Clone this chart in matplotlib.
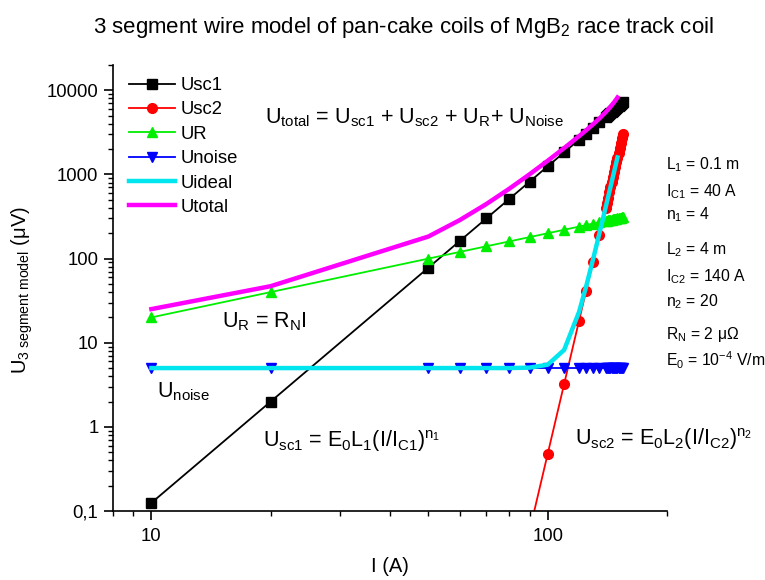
import matplotlib
matplotlib.use("Agg")
import matplotlib.pyplot as plt
import numpy as np
from matplotlib.ticker import FixedLocator, LogLocator, NullFormatter

plt.rcParams["font.family"] = ["Liberation Sans", "DejaVu Sans"]
plt.rcParams["mathtext.fontset"] = "custom"
plt.rcParams["mathtext.rm"] = "Liberation Sans"
plt.rcParams["mathtext.it"] = "Liberation Sans"
plt.rcParams["mathtext.bf"] = "Liberation Sans:bold"

# current steps (A)
current = [10, 20, 50, 60, 70, 80, 90, 100, 110, 120, 125, 130, 135, 140,
           141, 142, 143, 144, 145, 146, 147, 148, 149, 150,
           151, 152, 153, 154, 155]

# voltages (uV)
u_sc1 = [0.125, 2.0, 78, 162, 300, 512, 820, 1250, 1830, 2592, 3052, 3570, 4152, 4802,
         4941, 5082, 5227, 5375, 5526, 5680, 5837, 5997, 6161, 6328,
         6499, 6672, 6850, 7031, 7215]
u_sc2 = [np.nan, np.nan, np.nan, np.nan, np.nan, np.nan, 0.058, 0.478, 3.22, 18.3, 41.5,
         90.9, 193, 400, 461, 531, 611, 703, 807, 926, 1061, 1215, 1391, 1590,
         1816, 2072, 2362, 2691, 3063]
u_r = [20, 40, 100, 120, 140, 160, 180, 200, 220, 240, 250, 260, 270, 280,
       282, 284, 286, 288, 290, 292, 294, 296, 298, 300,
       302, 304, 306, 308, 310]
u_noise = [5] * len(current)

# ideal and total curves stop at 150 A
current_sum = current[:24]
u_ideal = [5, 5, 5, 5, 5, 5, 5.06, 5.48, 8.2, 23.3, 46.5, 95.9, 198, 405,
           466, 536, 616, 708, 812, 931, 1066, 1220, 1396, 1595]
u_total = [25.1, 47, 183, 287, 445, 677, 1005, 1455, 2058, 2855, 3349, 3926, 4620, 5487,
           5689, 5902, 6129, 6371, 6628, 6903, 7197, 7513, 7855, 8223]

W, H = 765, 580
fig = plt.figure(figsize=(W / 100, H / 100), dpi=100)
ax = fig.add_axes([113 / W, 1 - 511 / H, (667 - 113) / W, (511 - 65) / H])


def px(x, y):
    return x / W, 1 - y / H


ax.plot(current, u_sc1, "-s", color="black", lw=1.3, ms=6.5, label="Usc1")
ax.plot(current, u_sc2, "-o", color="#ff0000", lw=1.3, ms=7, label="Usc2")
ax.plot(current, u_r, "-^", color="#00ee00", lw=1.3, ms=7.5, label="UR")
ax.plot(current, u_noise, "-v", color="#0000ff", lw=1.3, ms=6.5, label="Unoise")
ax.plot(current_sum, u_ideal, "-", color="#00e5ee", lw=3.2, label="Uideal")
ax.plot(current_sum, u_total, "-", color="#ff00ff", lw=3.2, label="Utotal")

ax.set_xscale("log")
ax.set_yscale("log")
ax.set_xlim(8, 200)
ax.set_ylim(0.1, 20000)

ax.xaxis.set_major_locator(FixedLocator([10, 100]))
ax.set_xticklabels(["10", "100"])
ax.xaxis.set_minor_locator(LogLocator(base=10, subs=np.arange(2, 10)))
ax.xaxis.set_minor_formatter(NullFormatter())
ax.yaxis.set_major_locator(FixedLocator([0.1, 1, 10, 100, 1000, 10000]))
ax.set_yticklabels(["0,1", "1", "10", "100", "1000", "10000"])
ax.yaxis.set_minor_locator(LogLocator(base=10, subs=np.arange(2, 10)))
ax.yaxis.set_minor_formatter(NullFormatter())

for side in ("top", "right"):
    ax.spines[side].set_visible(False)
for side in ("left", "bottom"):
    ax.spines[side].set_linewidth(1.2)
ax.tick_params(which="major", direction="out", length=6.5, width=1.2, labelsize=13.3, pad=4)
ax.tick_params(which="minor", direction="out", length=3.5, width=1.0)
ax.tick_params(axis="x", which="major", pad=6)

leg = ax.legend(loc="upper left", bbox_to_anchor=px(129, 77), bbox_transform=fig.transFigure,
                frameon=False, fontsize=13.3, handlelength=2.5, handletextpad=0.3,
                labelspacing=0.4, borderpad=0, borderaxespad=0)

fig.text(*px(403, 28), "3 segment wire model of pan-cake coils of MgB$_2$ race track coil",
         fontsize=16, ha="center", va="center")
fig.text(*px(390, 567), "I (A)", fontsize=14.5, ha="center", va="center")
fig.text(*px(22, 290), "U$_{3\\ segment\\ model}$ (μV)", fontsize=14.5, rotation=90,
         ha="center", va="center")

fig.text(*px(265, 123), "U$_{total}$ = U$_{sc1}$ + U$_{sc2}$ + U$_R$+ U$_{Noise}$",
         fontsize=15.5, va="baseline")
fig.text(*px(222, 327), "U$_R$ = R$_N$I", fontsize=15.5, va="baseline")
fig.text(*px(157, 397), "U$_{noise}$", fontsize=15.5, va="baseline")
fig.text(*px(263, 447), "U$_{sc1}$ = E$_0$L$_1$(I/I$_{C1}$)$^{n_1}$", fontsize=15.5, va="baseline")
fig.text(*px(575, 445), "U$_{sc2}$ = E$_0$L$_2$(I/I$_{C2}$)$^{n_2}$", fontsize=15.5, va="baseline")

params = [
    ("L$_1$ = 0.1 m", 169),
    ("I$_{C1}$ = 40 A", 196),
    ("n$_1$ = 4", 219),
    ("L$_2$ = 4 m", 254),
    ("I$_{C2}$ = 140 A", 281),
    ("n$_2$ = 20", 306),
    ("R$_N$ = 2 μΩ", 339),
    ("E$_0$ = 10$^{-4}$ V/m", 366),
]
for txt, yb in params:
    fig.text(*px(666, yb), txt, fontsize=11.3, va="baseline")

fig.savefig("out.png", dpi=100)
